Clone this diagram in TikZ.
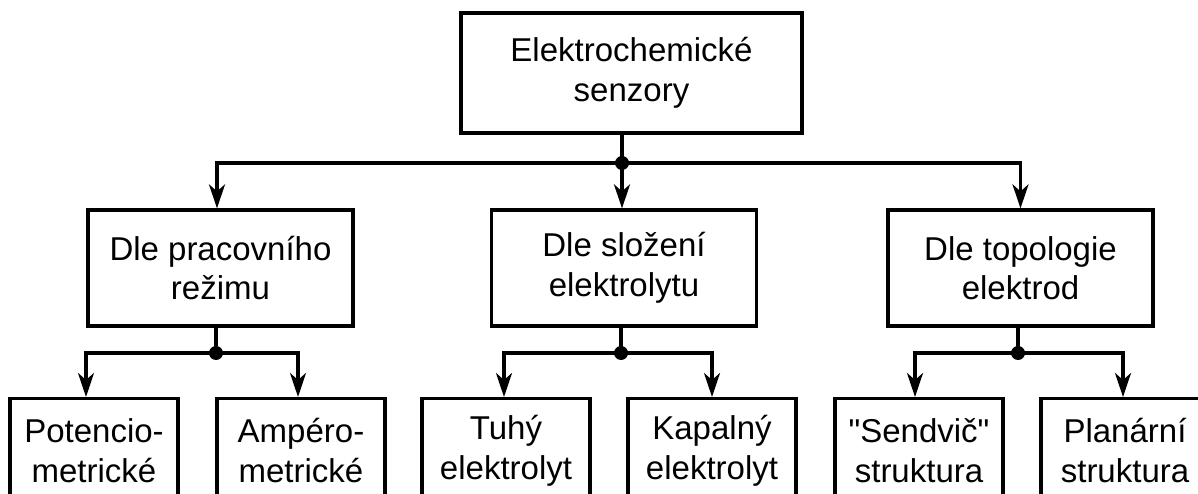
\documentclass[tikz,border=0pt]{standalone}
\usepackage{fontspec}
\setmainfont{Liberation Sans}
\usetikzlibrary{arrows.meta}
\begin{document}
\begin{tikzpicture}[x=1pt,y=-1pt,
  box/.style={draw, line width=3.2pt, align=center, inner sep=0pt, font=\fontsize{33}{39.5}\selectfont},
  topbox/.style={box, minimum width=341pt, minimum height=120pt},
  midbox/.style={box, minimum width=265pt, minimum height=116pt},
  leafbox/.style={box, minimum width=168pt, minimum height=104pt, anchor=north},
  conn/.style={line width=3.2pt},
  arr/.style={conn, -{Stealth[length=24pt,width=16pt,inset=7pt]}},
  dotr/.style={fill=black}]
\useasboundingbox (0,0) rectangle (1198,494);
\clip (0,0) rectangle (1198,494);
% top
\node[topbox] (top) at (631.5,73) {Elektrochemické\\senzory};
% middle
\node[midbox] (m1) at (220.5,268) {Dle pracovního\\režimu};
\node[midbox] (m2) at (624,268) {Dle složení\\elektrolytu};
\node[midbox] (m3) at (1020.5,268) {Dle topologie\\elektrod};
% leaves
\node[leafbox] (l1) at (94,397) {Potencio-\\metrické};
\node[leafbox] (l2) at (301,397) {Ampéro-\\metrické};
\node[leafbox] (l3) at (506,397) {Tuhý\\elektrolyt};
\node[leafbox] (l4) at (712,397) {Kapalný\\elektrolyt};
\node[leafbox] (l5) at (919,397) {\textquotedbl Sendvič\textquotedbl\\struktura};
\node[leafbox] (l6) at (1125,397) {Planární\\struktura};
% junctions
\coordinate (j0) at (622,163);
\coordinate (j1) at (216,353);
\coordinate (j2) at (621,353);
\coordinate (j3) at (1018,353);
% connectors
\draw[conn] (top.south -| j0) -- (j0);
\draw[arr] (j0) -- (m2.north -| j0);
\draw[arr] (j0) -| ([xshift=-3.5pt]m1.north);
\draw[arr] (j0) -| (m3.north);
\draw[conn] (m1.south -| j1) -- (j1);
\draw[conn] (m2.south -| j2) -- (j2);
\draw[conn] (m3.south -| j3) -- (j3);
\draw[arr] (j1) -| ([xshift=-8pt]l1.north);
\draw[arr] (j1) -| ([xshift=-3pt]l2.north);
\draw[arr] (j2) -| ([xshift=-2pt]l3.north);
\draw[arr] (j2) -| (l4.north);
\draw[arr] (j3) -| ([xshift=-4pt]l5.north);
\draw[arr] (j3) -| ([xshift=-2pt]l6.north);
\fill[dotr] (j0) circle (7pt);
\fill[dotr] (j1) circle (7pt);
\fill[dotr] (j2) circle (7pt);
\fill[dotr] (j3) circle (7pt);
\end{tikzpicture}
\end{document}
